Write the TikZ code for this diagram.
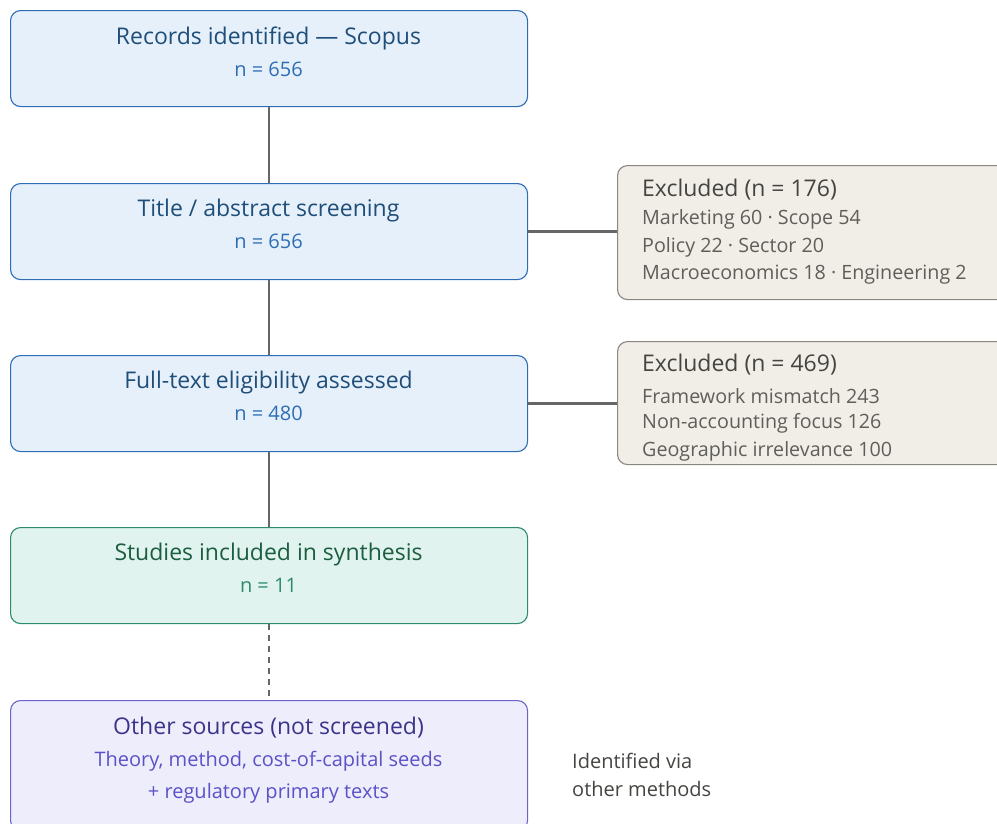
\documentclass[tikz,border=0pt]{standalone}
\usepackage{fontspec}
\setmainfont{Open Sans}
\definecolor{bfill}{HTML}{E6F0FB}
\definecolor{bdraw}{HTML}{2D6DB5}
\definecolor{btitle}{HTML}{1F4E79}
\definecolor{bsub}{HTML}{2E6DB4}
\definecolor{gfill}{HTML}{E1F3EE}
\definecolor{gdraw}{HTML}{2E8B6A}
\definecolor{gtitle}{HTML}{1B5E40}
\definecolor{gsub}{HTML}{2E8B6A}
\definecolor{pfill}{HTML}{EEEDFC}
\definecolor{pdraw}{HTML}{6B63C9}
\definecolor{ptitle}{HTML}{3C3489}
\definecolor{psub}{HTML}{5B52C6}
\definecolor{xfill}{HTML}{F1EEE8}
\definecolor{xdraw}{HTML}{888780}
\definecolor{xtitle}{HTML}{444441}
\definecolor{xsub}{HTML}{5F5E5A}
\definecolor{conn}{HTML}{666666}
\tikzset{
  box/.style={rounded corners=10pt, line width=1.1pt, minimum width=517pt, minimum height=96pt, inner sep=0pt},
  bluebox/.style={box, fill=bfill, draw=bdraw},
  greenbox/.style={box, fill=gfill, draw=gdraw},
  purplebox/.style={box, fill=pfill, draw=pdraw, minimum height=130pt},
  exbox/.style={rounded corners=10pt, line width=1.1pt, fill=xfill, draw=xdraw, minimum width=420pt, inner sep=0pt, anchor=north west},
  ttl/.style={font=\fontsize{23}{27}\selectfont, anchor=center, inner sep=0pt},
  sub/.style={font=\fontsize{20}{24}\selectfont, anchor=center, inner sep=0pt},
  exttl/.style={font=\fontsize{23}{27}\selectfont, anchor=west, text=xtitle, inner sep=0pt},
  exsub/.style={font=\fontsize{19.7}{23}\selectfont, anchor=west, text=xsub, inner sep=0pt},
  note/.style={font=\fontsize{20}{24}\selectfont, anchor=west, text=xtitle, inner sep=0pt},
  link/.style={draw=conn, line width=2.2pt},
}
\begin{document}
\begin{tikzpicture}[x=1pt, y=-1pt]
\useasboundingbox (0,0) rectangle (997,823);
\clip (0,0) rectangle (997,823);
% left column boxes
\node[bluebox, anchor=north west] (b1) at (10,10) {};
\node[bluebox, anchor=north west] (b2) at (10,183) {};
\node[bluebox, anchor=north west] (b3) at (10,355) {};
\node[greenbox, anchor=north west] (b4) at (10,527) {};
\node[purplebox, anchor=north west] (b5) at (10,700) {};
% right boxes
\node[exbox, minimum height=134pt] (e1) at (617,165) {};
\node[exbox, minimum height=123pt] (e2) at (617,341) {};
% connectors
\draw[link] (b1.south) -- (b2.north);
\draw[link] (b2.south) -- (b3.north);
\draw[link] (b3.south) -- (b4.north);
\draw[link, dash pattern=on 6pt off 5pt] (b4.south) -- (b5.north);
\draw[link] (b2.east) -- (e1.west |- b2.east);
\draw[link] (b3.east) -- (e2.west |- b3.east);
% texts
\node[ttl, text=btitle] (t1) at (268.5,38) {Records identified — Scopus};
\node[sub, text=bsub] (n1) at (268.5,69) {n = 656};
\node[ttl, text=btitle] (t2) at (268.5,211) {Title / abstract screening};
\node[sub, text=bsub] (n2) at (268.5,241) {n = 656};
\node[ttl, text=btitle] (t3) at (268.5,383) {Full-text eligibility assessed};
\node[sub, text=bsub] (n3) at (268.5,413) {n = 480};
\node[ttl, text=gtitle] (t4) at (268.5,555) {Studies included in synthesis};
\node[sub, text=gsub] (n4) at (268.5,585) {n = 11};
\node[ttl, text=ptitle] (t5) at (268.5,728) {Other sources (not screened)};
\node[sub, text=psub] (s5a) at (268.5,761) {Theory, method, cost-of-capital seeds};
\node[sub, text=psub] (s5b) at (268.5,793) {+ regulatory primary texts};
\node[exttl] (x1) at (642,190) {Excluded (n = 176)};
\node[exsub] (x1a) at (642,219) {Marketing 60 · Scope 54};
\node[exsub] (x1b) at (642,247) {Policy 22 · Sector 20};
\node[exsub] (x1c) at (642,275) {Macroeconomics 18 · Engineering 2};
\node[exttl] (x2) at (642,365) {Excluded (n = 469)};
\node[exsub] (x2a) at (642,396) {Framework mismatch 243};
\node[exsub] (x2b) at (642,423) {Non-accounting focus 126};
\node[exsub] (x2c) at (642,451) {Geographic irrelevance 100};
\node[note] (o1) at (572,761) {Identified via};
\node[note] (o2) at (572,789) {other methods};
\end{tikzpicture}
\end{document}
